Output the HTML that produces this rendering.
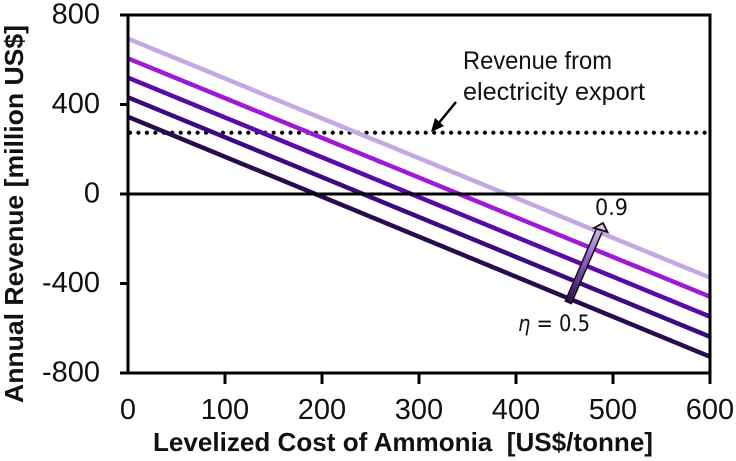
<!DOCTYPE html>
<html>
<head>
<meta charset="utf-8">
<style>
html,body{margin:0;padding:0;background:#fff;width:736px;height:461px;overflow:hidden}
svg{display:block;font-family:"Liberation Sans",sans-serif}
</style>
</head>
<body>
<svg id="chart" width="736" height="461" viewBox="0 0 736 461" xmlns="http://www.w3.org/2000/svg">
<defs>
<linearGradient id="etaGrad" gradientUnits="userSpaceOnUse" x1="568" y1="303" x2="604" y2="223">
<stop offset="0" stop-color="#2a0a4e"/><stop offset="0.5" stop-color="#8a58c0"/><stop offset="1" stop-color="#dcc4f6"/>
</linearGradient>
</defs>
<g id="marks"></g>
<g id="ticks"></g>
<g id="notes">
<text x="463" y="69" font-size="25" textLength="149" lengthAdjust="spacingAndGlyphs" fill="#111">Revenue from</text>
<text x="463" y="100" font-size="25" textLength="182" lengthAdjust="spacingAndGlyphs" fill="#111">electricity export</text>
<line x1="456" y1="102" x2="438" y2="124" stroke="#000" stroke-width="2.4"/>
<polygon points="431,132 435,118 444,126" fill="#000"/>
<line x1="568" y1="303" x2="599" y2="231" stroke="#111" stroke-width="8"/>
<line x1="568.6" y1="301.5" x2="599" y2="231" stroke="url(#etaGrad)" stroke-width="5"/>
<polygon points="603,223 607.5,232 594,228" fill="#dcc4f6" stroke="#111" stroke-width="1.8"/>
<text x="595" y="215" font-family="'DejaVu Sans',sans-serif" font-size="22" textLength="33" lengthAdjust="spacingAndGlyphs" fill="#111">0.9</text>
<text x="518" y="331" font-family="'DejaVu Sans',sans-serif" font-size="22" textLength="72" lengthAdjust="spacingAndGlyphs" fill="#111"><tspan font-style="italic">η</tspan> = 0.5</text>
</g>
<text transform="translate(23,214) rotate(-90)" text-anchor="middle" font-size="26" font-weight="bold" textLength="378" lengthAdjust="spacingAndGlyphs" fill="#111">Annual Revenue [million US$]</text>
<text x="153" y="451" font-size="26" font-weight="bold" textLength="500" lengthAdjust="spacingAndGlyphs" xml:space="preserve" fill="#111">Levelized Cost of Ammonia  [US$/tonne]</text>
</svg>
<script>
var xTickLabels = [0, 100, 200, 300, 400, 500, 600];
var yTickLabels = [-800, -400, 0, 400, 800];
var costRange = [0, 600];
var etaSeries = ['0.5', '0.6', '0.7', '0.8', '0.9'];
var revenueAtZeroCost = [345, 432, 520, 606, 694];
var revenueAtMaxCost = [-727, -638, -548, -459, -374];
var seriesColors = ['#280a50', '#3c0a80', '#5a0aa8', '#a018d8', '#c4a8e4'];
var electricityRevenue = [274];

var plotLeft = 128, plotRight = 710, plotTop = 15, plotBottom = 373;
function xScale(v) { return plotLeft + (v - 0) / 600 * (plotRight - plotLeft); }
function yScale(v) { return plotBottom - (v + 800) / 1600 * (plotBottom - plotTop); }

var NS = 'http://www.w3.org/2000/svg';
function make(parent, tag, props, txt) {
  var el = document.createElementNS(NS, tag);
  for (var k in props) { el.setAttribute(k, props[k]); }
  if (txt !== undefined) { el.textContent = txt; }
  parent.appendChild(el);
  return el;
}
var marks = document.getElementById('marks');
var ticks = document.getElementById('ticks');

var dotted = make(marks, 'line', {x1: xScale(0) + 2, x2: xScale(600), y1: yScale(electricityRevenue[0]), y2: yScale(electricityRevenue[0]), stroke: '#000', 'stroke-width': 4.2, 'stroke-linecap': 'round', 'stroke-dasharray': '0 8.45'});



etaSeries.forEach(function (eta, i) {
  var line = make(marks, 'line', {x1: xScale(costRange[0]), y1: yScale(revenueAtZeroCost[i]), x2: xScale(costRange[1]), y2: yScale(revenueAtMaxCost[i]), stroke: seriesColors[i], 'stroke-width': 4.5});
  
  
});

var zero = make(ticks, 'line', {x1: xScale(0), x2: xScale(600), y1: yScale(0), y2: yScale(0), stroke: '#000', 'stroke-width': 3});



var frame = make(ticks, 'path', {d: 'M' + plotLeft + ' ' + plotTop + 'V' + plotBottom + 'M' + plotRight + ' ' + plotTop + 'V' + plotBottom + 'M' + plotLeft + ' ' + plotTop + 'H' + plotRight + 'M' + plotLeft + ' ' + plotBottom + 'H' + plotRight, stroke: '#000', 'stroke-width': 3, fill: 'none', 'stroke-linecap': 'square'});



yTickLabels.forEach(function (v) {
  var y = yScale(v);
  var t = make(ticks, 'line', {x1: 120, x2: plotLeft, y1: y, y2: y, stroke: '#000', 'stroke-width': 3});
  
  
  var l = make(ticks, 'text', {x: 100, y: y + 8.5, 'text-anchor': 'end', 'font-size': 29, fill: '#111'}, String(v));
  
  
});

xTickLabels.forEach(function (v) {
  var x = xScale(v);
  if (v > 0) {
    var t = make(ticks, 'line', {x1: x, x2: x, y1: plotBottom, y2: 384, stroke: '#000', 'stroke-width': 3});
    
    
  }
  var l = make(ticks, 'text', {x: x, y: 419, 'text-anchor': 'middle', 'font-size': 29, fill: '#111'}, String(v));
  
  
});
</script>
</body>
</html>
